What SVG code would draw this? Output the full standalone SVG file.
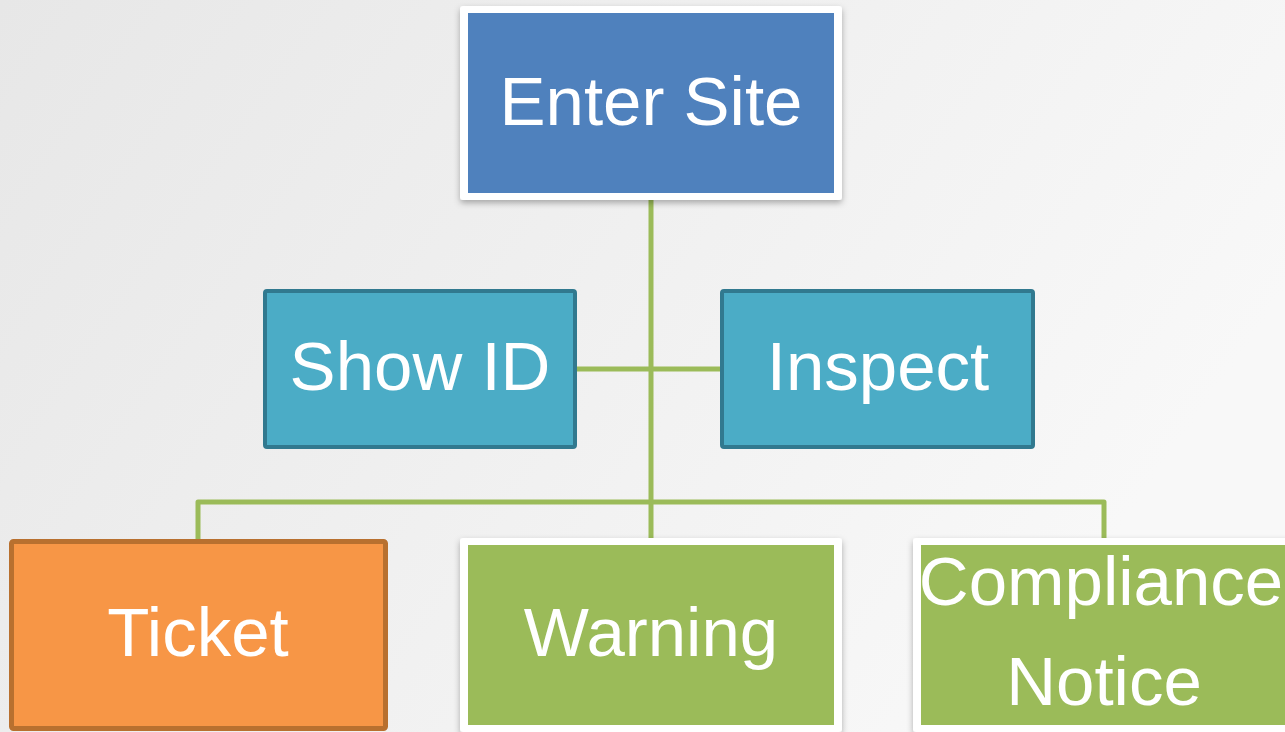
<svg xmlns="http://www.w3.org/2000/svg" width="1285" height="732" viewBox="0 0 1285 732">
  <defs>
    <linearGradient id="bg" x1="0" y1="0" x2="1" y2="0.4">
      <stop offset="0" stop-color="#e7e7e7"/>
      <stop offset="1" stop-color="#f8f8f8"/>
    </linearGradient>
    <filter id="shadow" x="-10%" y="-10%" width="120%" height="130%">
      <feDropShadow dx="0" dy="3" stdDeviation="3" flood-color="#000" flood-opacity="0.3"/>
    </filter>
    <style>
      .label { font-family: "Liberation Sans", Arial, sans-serif; font-size: 69px; fill: #ffffff; text-anchor: middle; }
      .conn { fill: none; stroke: #9bbb59; stroke-width: 5; stroke-linejoin: round; }
      .frame { fill: #ffffff; filter: url(#shadow); }
      .blue { fill: #4f81bd; }
      .green { fill: #9bbb59; }
      .teal { fill: #4bacc6; stroke: #31798f; stroke-width: 4; }
      .orange { fill: #f79646; stroke: #b8702f; stroke-width: 5; }
    </style>
  </defs>

  <rect x="0" y="0" width="1285" height="732" fill="url(#bg)"/>

  <!-- connectors -->
  <g id="connectors">
    <line class="conn" x1="651" y1="198" x2="651" y2="540"/>
    <line class="conn" x1="576" y1="369" x2="721" y2="369"/>
    <path class="conn" d="M198 541 V502 H1104 V541"/>
  </g>

  <g id="enter-site">
    <rect class="frame" x="460" y="6" width="382" height="194" rx="3"/>
    <rect class="blue" x="468" y="13" width="366" height="180"/>
    <text class="label" x="651" y="125">Enter Site</text>
  </g>

  <g id="show-id">
    <rect class="teal" x="265" y="291" width="310" height="156" rx="2"/>
    <text class="label" x="420" y="390">Show ID</text>
  </g>

  <g id="inspect">
    <rect class="teal" x="722" y="291" width="311" height="156" rx="2"/>
    <text class="label" x="878" y="390">Inspect</text>
  </g>

  <g id="ticket">
    <rect class="orange" x="11.5" y="541.5" width="374" height="187" rx="2"/>
    <text class="label" x="198" y="656">Ticket</text>
  </g>

  <g id="warning">
    <rect class="frame" x="460" y="538" width="382" height="194" rx="3"/>
    <rect class="green" x="468" y="545" width="366" height="180"/>
    <text class="label" x="651" y="656">Warning</text>
  </g>

  <g id="compliance-notice">
    <rect class="frame" x="913" y="538" width="382" height="194" rx="3"/>
    <rect class="green" x="921" y="545" width="366" height="180"/>
    <text class="label" x="1101" y="605">Compliance</text>
    <text class="label" x="1104" y="705">Notice</text>
  </g>
</svg>
